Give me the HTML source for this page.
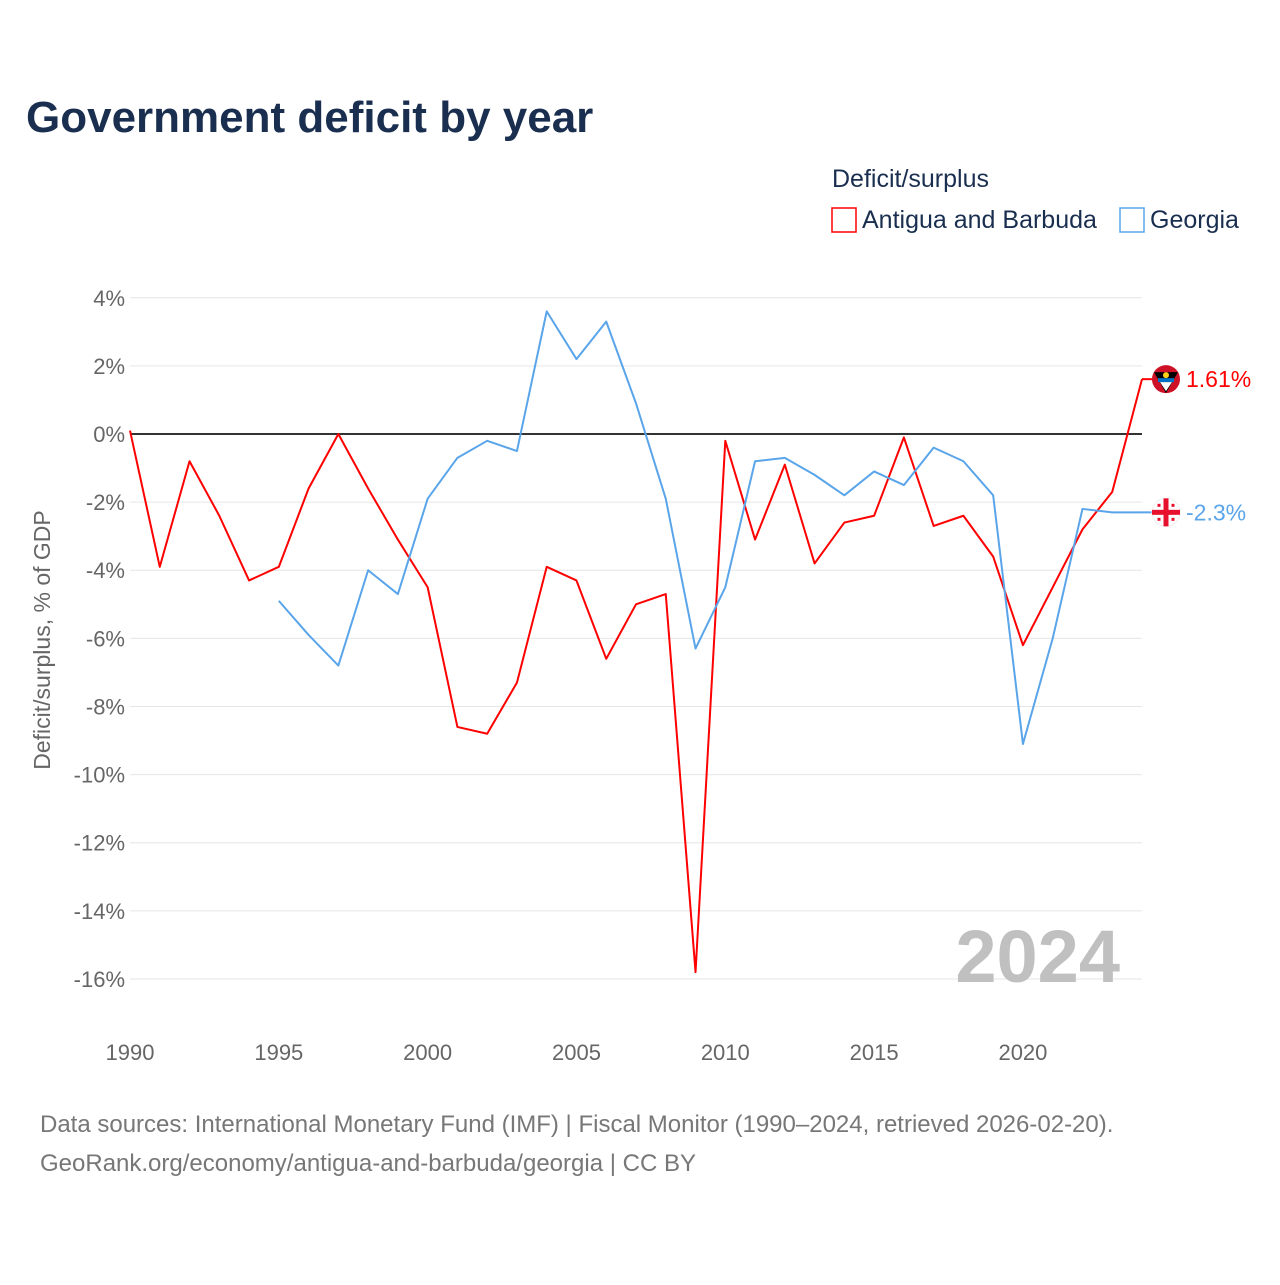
<!DOCTYPE html>
<html><head><meta charset="utf-8"><style>
body{margin:0;background:#fff;font-family:"Liberation Sans",sans-serif}
svg text{font-family:"Liberation Sans",sans-serif}
</style></head><body>
<svg id="chart" width="1280" height="1280" xmlns="http://www.w3.org/2000/svg">
<text x="26" y="132" font-size="44" font-weight="bold" fill="#1a2f4f">Government deficit by year</text>
<text x="832" y="187" font-size="25" fill="#1a2f4f">Deficit/surplus</text>
<g><rect x="832" y="208" width="24" height="24" fill="none" stroke="#f00" stroke-width="1.5"/><text x="862" y="228" font-size="25" fill="#1a2f4f">Antigua and Barbuda</text></g>
<g><rect x="1120" y="208" width="24" height="24" fill="none" stroke="#5aa5ea" stroke-width="1.5"/><text x="1150" y="228" font-size="25" fill="#1a2f4f">Georgia</text></g>
<text transform="translate(50,640) rotate(-90)" text-anchor="middle" font-size="23" fill="#666">Deficit/surplus, % of GDP</text>
<g id="grid"></g><g id="yticks"></g><g id="xticks"></g>
<text x="1120" y="982" text-anchor="end" font-size="74" font-weight="bold" fill="#c0c0c0">2024</text>
<g id="lines"></g>
<text x="40" y="1132" font-size="24" fill="#777">Data sources: International Monetary Fund (IMF) | Fiscal Monitor (1990–2024, retrieved 2026-02-20).</text>
<text x="40" y="1171" font-size="24" fill="#777">GeoRank.org/economy/antigua-and-barbuda/georgia | CC BY</text>
</svg>
<script>
const years=[1990,1991,1992,1993,1994,1995,1996,1997,1998,1999,2000,2001,2002,2003,2004,2005,2006,2007,2008,2009,2010,2011,2012,2013,2014,2015,2016,2017,2018,2019,2020,2021,2022,2023,2024];
const antigua=[0.1,-3.9,-0.8,-2.4,-4.3,-3.9,-1.6,0,-1.6,-3.1,-4.5,-8.6,-8.8,-7.3,-3.9,-4.3,-6.6,-5.0,-4.7,-15.8,-0.2,-3.1,-0.9,-3.8,-2.6,-2.4,-0.1,-2.7,-2.4,-3.6,-6.2,-4.5,-2.8,-1.7,1.61];
const georgiaYears=[1995,1996,1997,1998,1999,2000,2001,2002,2003,2004,2005,2006,2007,2008,2009,2010,2011,2012,2013,2014,2015,2016,2017,2018,2019,2020,2021,2022,2023,2024];
const georgia=[-4.9,-5.9,-6.8,-4.0,-4.7,-1.9,-0.7,-0.2,-0.5,3.6,2.2,3.3,0.9,-1.9,-6.3,-4.5,-0.8,-0.7,-1.2,-1.8,-1.1,-1.5,-0.4,-0.8,-1.8,-9.1,-6.0,-2.2,-2.3,-2.3];
const yTicks=[4,2,0,-2,-4,-6,-8,-10,-12,-14,-16];
const xTicks=[1990,1995,2000,2005,2010,2015,2020];
const NS="http://www.w3.org/2000/svg";
const x=v=>130+(v-1990)*(1142-130)/34;
const y=v=>434-v*34.06;
function mk(t,a,p){const e=document.createElementNS(NS,t);for(const k in a)e.setAttribute(k,a[k]);document.getElementById(p).appendChild(e);return e;}
yTicks.forEach(v=>{
 const l=mk('line',{x1:130,x2:1142,y1:y(v),y2:y(v),stroke:v===0?'#333':'#e6e6e6','stroke-width':v===0?2:1},'grid');
 
 
 const t=mk('text',{x:125,y:y(v)+8,'text-anchor':'end','font-size':22,fill:'#666'},'yticks');
 t.textContent=v+'%';
 
 
});
xTicks.forEach(v=>{
 const t=mk('text',{x:x(v),y:1060,'text-anchor':'middle','font-size':22,fill:'#666'},'xticks');
 t.textContent=v;
 
 
});
function line(xs,vs,c,name){
 const p=mk('polyline',{points:xs.map((yr,i)=>x(yr)+','+y(vs[i])).join(' '),fill:'none',stroke:c,'stroke-width':2,'stroke-linejoin':'round'},'lines');
 
 
}
line(years,antigua,'#f00','antigua-line');
line(georgiaYears,georgia,'#5aa5ea','georgia-line');
function end(v,c,label,name,georgiaFlag){
 const yy=y(v);
 mk('line',{x1:1142,x2:1158,y1:yy,y2:yy,stroke:c,'stroke-width':2},'lines');
 if(georgiaFlag){
  const f=mk('circle',{cx:1166,cy:yy,r:14,fill:'#fff',stroke:'#eee'},'lines');
  
  
  mk('rect',{x:1152,y:yy-2.5,width:28,height:5,fill:'#e8112d'},'lines');
  mk('rect',{x:1163.5,y:yy-14,width:5,height:28,fill:'#e8112d'},'lines');
  [[-7,-7],[7,-7],[-7,7],[7,7]].forEach(d=>mk('rect',{x:1166+d[0]-1.5,y:yy+d[1]-1.5,width:3,height:3,fill:'#e8112d'},'lines'));
 } else {
  const f=mk('circle',{cx:1166,cy:yy,r:14,fill:'#ce1126'},'lines');
  
  
  mk('path',{d:`M${1154} ${yy-7} L${1178} ${yy-7} L${1166} ${yy+14} Z`,fill:'#000'},'lines');
  mk('rect',{x:1158,y:yy-1,width:16,height:4,fill:'#0072c6'},'lines');
  mk('path',{d:`M${1160} ${yy+3} L${1172} ${yy+3} L${1166} ${yy+12} Z`,fill:'#fff'},'lines');
  mk('circle',{cx:1166,cy:yy-4,r:3,fill:'#fcd116'},'lines');
 }
 const t=mk('text',{x:1186,y:yy+8,'font-size':23,fill:c},'lines');
 t.textContent=label;
 
 
}
end(antigua[antigua.length-1],'#f00',antigua[antigua.length-1]+'%','antigua',false);
end(georgia[georgia.length-1],'#5aa5ea',georgia[georgia.length-1]+'%','georgia',true);
</script>
</body></html>
